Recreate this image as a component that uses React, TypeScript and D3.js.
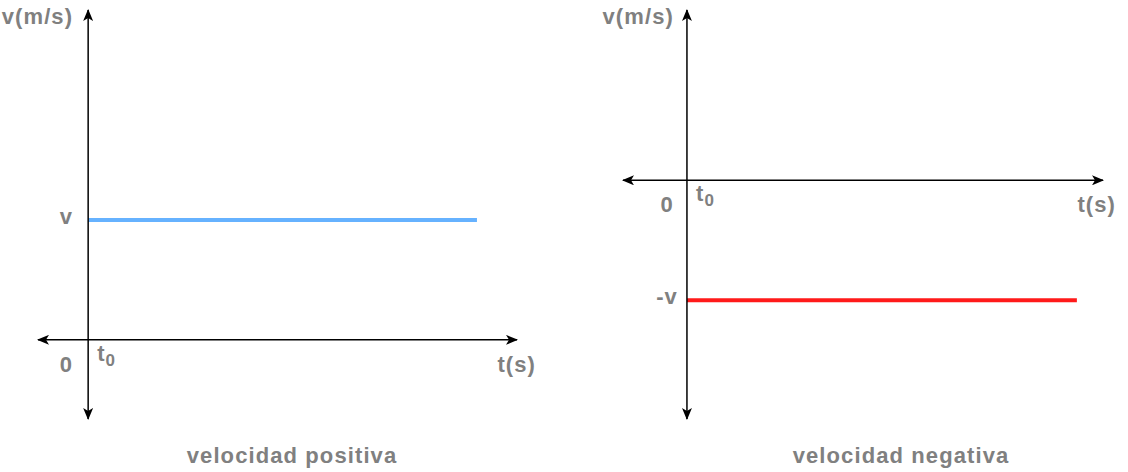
import React, { useRef, useEffect } from 'react';
import * as d3 from 'd3';

// Chart content
const captions = ['velocidad positiva', 'velocidad negativa'];
const velocities = [1, -1];
const velocityLabels = ['v', '-v'];
const lineTime = [0, 10]; // from t0 to end of the drawn segment
const lineColors = ['#66b2ff', '#ff1a1a'];
const axisTimeDomains: [number, number][] = [[-1.29, 11.03], [-1.64, 10.67]];
const axisVelDomains: [number, number][] = [[-0.66, 2.75], [-1.99, 1.42]];

const App = () => {
  const svgRef = useRef(null);
  const width = 1128;
  const height = 472;

  useEffect(() => {
    document.body.style.margin = '0';
    const svg = d3.select(svgRef.current)
      .attr('width', width)
      .attr('height', height);
    svg.selectAll('*').remove();

    const defs = svg.append('defs');
    defs.append('marker')
      .attr('id', 'arrow')
      .attr('viewBox', '0 0 12 10')
      .attr('refX', 11)
      .attr('refY', 5)
      .attr('markerWidth', 12)
      .attr('markerHeight', 10)
      .attr('markerUnits', 'userSpaceOnUse')
      .attr('orient', 'auto-start-reverse')
      .append('path')
      .attr('d', 'M0,0 L12,5 L0,10 L3,5 Z')
      .attr('fill', '#000');

    const font = "'Liberation Sans', Arial, Helvetica, sans-serif";
    const gray = '#808080';

    // pixel extents of each panel's axes, plus small per-panel label nudges
    const xRanges: [number, number][] = [[38, 517], [623, 1103]];
    const yRange: [number, number] = [419, 10];
    const labelGap = [15, 13];
    const tLabelShift = [19, 13];
    const captionShift = [14.5, 38];

    captions.forEach((caption, i) => {
      const x = d3.scaleLinear().domain(axisTimeDomains[i]).range(xRanges[i]);
      const y = d3.scaleLinear().domain(axisVelDomains[i]).range(yRange);
      const g = svg.append('g');
      const x0 = x(0);
      const y0 = y(0);

      const text = (tx: number, ty: number, s: string, anchor = 'start', size = 22) =>
        g.append('text')
          .attr('x', tx)
          .attr('y', ty)
          .attr('text-anchor', anchor)
          .attr('font-family', font)
          .attr('font-weight', 'bold')
          .attr('font-size', size)
          .attr('letter-spacing', 1.1)
          .attr('fill', gray)
          .text(s);

      // velocity segment
      g.append('line')
        .attr('x1', x(lineTime[0]))
        .attr('x2', x(lineTime[1]))
        .attr('y1', y(velocities[i]))
        .attr('y2', y(velocities[i]))
        .attr('stroke', lineColors[i])
        .attr('stroke-width', 4);

      // axes with arrows at both ends
      g.append('line')
        .attr('x1', x.range()[0]).attr('x2', x.range()[1])
        .attr('y1', y0).attr('y2', y0)
        .attr('stroke', '#000').attr('stroke-width', 1.5)
        .attr('marker-start', 'url(#arrow)')
        .attr('marker-end', 'url(#arrow)');
      g.append('line')
        .attr('x1', x0).attr('x2', x0)
        .attr('y1', y.range()[0]).attr('y2', y.range()[1])
        .attr('stroke', '#000').attr('stroke-width', 1.5)
        .attr('marker-start', 'url(#arrow)')
        .attr('marker-end', 'url(#arrow)');

      // labels
      const gap = labelGap[i];
      text(x0 - gap, 24, 'v(m/s)', 'end');
      text(x0 - gap + 4 * i, y(velocities[i]) + 4, velocityLabels[i], 'end');
      text(x0 - gap, y0 + 32, '0', 'end');
      const t0 = text(x0 + 9, y0 + 21, 't');
      t0.append('tspan').attr('font-size', 17).attr('dy', 5).text('0');
      text(x.range()[1] + tLabelShift[i], y0 + 32, 't(s)', 'end');
      text((x.range()[0] + x.range()[1]) / 2 + captionShift[i], 463, caption, 'middle');
    });
  }, []);

  return <svg ref={svgRef}></svg>;
};

export default App;
